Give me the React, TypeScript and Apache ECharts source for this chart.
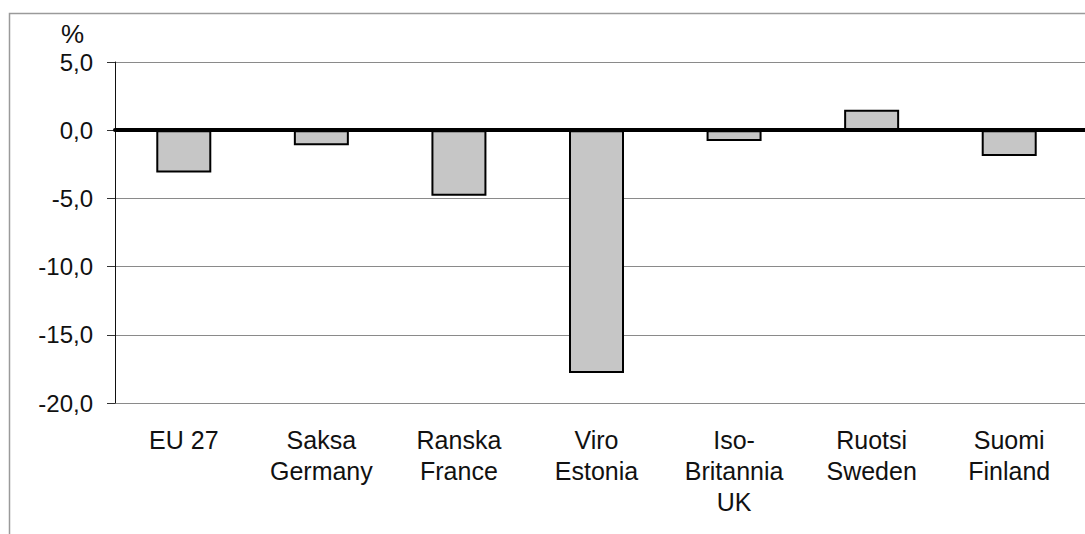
import React, { useEffect, useRef } from "react";
import * as echarts from "echarts";

const categories = [
  "EU 27",
  "Saksa\nGermany",
  "Ranska\nFrance",
  "Viro\nEstonia",
  "Iso-\nBritannia\nUK",
  "Ruotsi\nSweden",
  "Suomi\nFinland",
];
const values = [-3.1, -1.1, -4.8, -17.8, -0.8, 1.5, -1.9];
const yMin = -20;
const yMax = 5;
const yStep = 5;
const unitLabel = "%";

const FONT = "'Liberation Sans', Arial, Helvetica, sans-serif";

export default function App() {
  const ref = useRef<HTMLDivElement>(null);

  useEffect(() => {
    if (!ref.current) return;
    const chart = echarts.init(ref.current, undefined, { renderer: "svg" });
    const fmt = (v: number) => v.toFixed(1).replace(".", ",");
    chart.setOption({
      animation: false,
      backgroundColor: "#ffffff",
      title: {
        text: unitLabel,
        left: 56,
        top: 16,
        textStyle: { fontSize: 26, fontWeight: "normal", color: "#111", fontFamily: FONT },
      },
      graphic: [
        {
          type: "rect",
          shape: { x: 9.5, y: 13.5, width: 2000, height: 1000 },
          style: { fill: "none", stroke: "#9a9a9a", lineWidth: 1.5 },
          silent: true,
        },
      ],
      grid: [
        { left: 115, top: 62, right: 0, height: 341 },
        { left: 115, top: 62, width: 963, height: 341 },
      ],
      xAxis: [
        {
          gridIndex: 0,
          type: "category",
          data: categories,
          axisLine: { show: true, onZero: true, lineStyle: { color: "#000", width: 4 } },
          axisTick: { show: false },
          axisLabel: { show: false },
          splitLine: { show: false },
          z: 10,
        },
        {
          gridIndex: 1,
          type: "category",
          data: categories,
          axisLine: { show: false, onZero: false },
          axisTick: { show: false },
          splitLine: { show: false },
          axisLabel: {
            interval: 0,
            margin: 21,
            fontSize: 25,
            lineHeight: 31,
            color: "#111",
            fontFamily: FONT,
            align: "center",
          },
        },
      ],
      yAxis: [
        {
          gridIndex: 0,
          type: "value",
          min: yMin,
          max: yMax,
          interval: yStep,
          axisLine: { show: true, lineStyle: { color: "#111", width: 1 } },
          axisTick: { show: true, length: 8, lineStyle: { color: "#333" } },
          axisLabel: {
            margin: 22,
            fontSize: 24,
            color: "#111",
            fontFamily: FONT,
            formatter: fmt,
          },
          splitLine: { show: true, lineStyle: { color: "#8a8a8a", width: 1 } },
        },
        {
          gridIndex: 1,
          type: "value",
          min: yMin,
          max: yMax,
          interval: yStep,
          show: false,
          splitLine: { show: false },
        },
      ],
      series: [
        {
          type: "bar",
          xAxisIndex: 1,
          yAxisIndex: 1,
          data: values,
          barWidth: 55,
          itemStyle: { color: "#c6c6c6", borderColor: "#000", borderWidth: 2 },
        },
      ],
    });
    return () => chart.dispose();
  }, []);

  return (
    <div
      ref={ref}
      style={{ position: "fixed", left: 0, top: 0, width: 1085, height: 534 }}
    />
  );
}
